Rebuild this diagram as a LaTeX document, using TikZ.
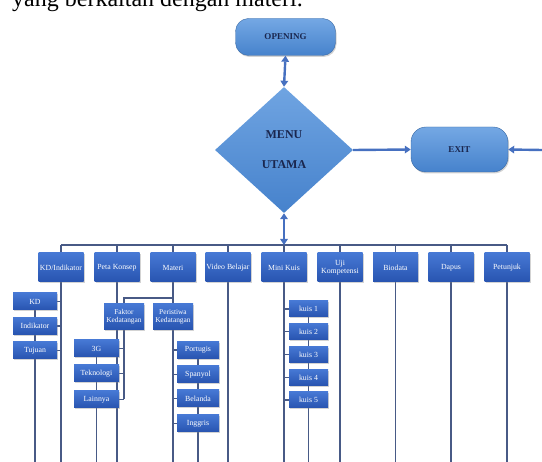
\documentclass[tikz,border=0pt]{standalone}
\usepackage{fontspec}
\setmainfont{Liberation Serif}
\usetikzlibrary{shapes.geometric}
\usetikzlibrary{arrows.meta}
\usetikzlibrary{shadows}
\usetikzlibrary{backgrounds}
\definecolor{boxtop}{RGB}{70,120,212}
\definecolor{boxbot}{RGB}{40,84,176}
\definecolor{pilltop}{RGB}{116,168,228}
\definecolor{pillbot}{RGB}{70,130,204}
\definecolor{pilltext}{RGB}{26,38,78}
\definecolor{linkgrey}{RGB}{72,90,134}
\definecolor{arrowblue}{RGB}{70,112,192}
\begin{document}
\begin{tikzpicture}[
  menubox/.style={rectangle, minimum width=45pt, minimum height=29pt, inner sep=0pt, top color=boxtop, bottom color=boxbot, text=white, align=center, font=\fontsize{7.8}{8.2}\selectfont, drop shadow={opacity=0.35, shadow xshift=1.2pt, shadow yshift=-1.5pt}},
  subbox/.style={menubox, minimum width=44pt, minimum height=17pt},
  kuisbox/.style={menubox, minimum width=39pt, minimum height=16pt},
  pillbox/.style={rectangle, rounded corners=13pt, inner sep=0pt, top color=pilltop, bottom color=pillbot, draw=pillbot!80!black, line width=0.4pt, text=pilltext, font=\fontsize{9}{10}\selectfont\bfseries, drop shadow={opacity=0.35, shadow xshift=1pt, shadow yshift=-1.5pt}},
  decision/.style={diamond, minimum width=138pt, minimum height=126pt, inner sep=0pt, top color=pilltop!90!pillbot, bottom color=pillbot, text=pilltext, align=center, font=\fontsize{12}{13}\selectfont\bfseries},
  link/.style={line width=1.1pt, color=linkgrey},
  flow/.style={line width=2.4pt, color=arrowblue, -{Triangle[length=6pt, width=7.5pt]}},
  flowboth/.style={flow, {Triangle[length=6pt, width=7.5pt]}-{Triangle[length=6pt, width=7.5pt]}}
]
\useasboundingbox (0pt, 0pt) rectangle (542pt, -462pt);
\clip (0pt, 0pt) rectangle (542pt, -462pt);
\node (caption) [anchor=base west, inner sep=0pt, font=\fontsize{24}{25}\selectfont] at (12pt, -7pt) {yang berkaitan dengan materi.};
% top of the flow
\node (opening) [pillbox, minimum width=100pt, minimum height=37pt] at (285.5pt, -37.0pt) {OPENING};
\node (menu) [decision] at (284.0pt, -150.0pt) {MENU\\[17pt]UTAMA};
\node (exit) [pillbox, rounded corners=15pt, minimum width=97pt, minimum height=45pt] at (459.5pt, -149.5pt) {EXIT};
\coordinate (exitin) at (542pt, -150.0pt);
\coordinate (busL) at (61.0pt, -245.0pt);
\coordinate (busM) at (284.0pt, -245.0pt);
\coordinate (busR) at (507.0pt, -245.0pt);
\coordinate (bottom) at (0pt, -462.0pt);
\coordinate (split) at (173.0pt, -298.0pt);
% menu row
\node (kdind) [menubox] at (61.0pt, -267.5pt) {KD/Indikator};
\node (peta) [menubox] at (117.0pt, -267.5pt) {Peta Konsep};
\node (materi) [menubox] at (173.0pt, -267.5pt) {Materi};
\node (video) [menubox] at (228.0pt, -267.5pt) {Video Belajar};
\node (mkuis) [menubox] at (284.0pt, -267.5pt) {Mini Kuis};
\node (uji) [menubox] at (340.0pt, -267.5pt) {Uji\\Kompetensi};
\node (bio) [menubox] at (395.5pt, -267.5pt) {Biodata};
\node (dapus) [menubox] at (451.0pt, -267.5pt) {Dapus};
\node (petunjuk) [menubox] at (507.0pt, -267.5pt) {Petunjuk};
% KD/Indikator
\node (kd) [subbox] at (35.0pt, -301.5pt) {KD};
\node (indik) [subbox] at (35.0pt, -326.0pt) {Indikator};
\node (tujuan) [subbox] at (35.0pt, -350.5pt) {Tujuan};
% Materi
\node (faktor) [subbox, minimum width=40pt, minimum height=26pt, font=\fontsize{7.4}{8}\selectfont] at (124.0pt, -317.0pt) {Faktor\\Kedatangan};
\node (peristiwa) [subbox, minimum width=40pt, minimum height=26pt, font=\fontsize{7.4}{8}\selectfont] at (173.0pt, -317.0pt) {Peristiwa\\Kedatangan};
\node (tigag) [subbox, minimum width=45pt] at (96.5pt, -348.5pt) {3G};
\node (tekno) [subbox, minimum width=45pt] at (96.5pt, -373.5pt) {Teknologi};
\node (lainnya) [subbox, minimum width=45pt] at (96.5pt, -399.5pt) {Lainnya};
\node (portugis) [subbox, minimum width=42pt] at (198.0pt, -350.0pt) {Portugis};
\node (spanyol) [subbox, minimum width=42pt] at (198.0pt, -374.5pt) {Spanyol};
\node (belanda) [subbox, minimum width=42pt] at (198.0pt, -398.5pt) {Belanda};
\node (inggris) [subbox, minimum width=42pt] at (198.0pt, -423.5pt) {Inggris};
% Mini Kuis
\node (kuis1) [kuisbox] at (308.5pt, -309.0pt) {kuis 1};
\node (kuis2) [kuisbox] at (308.5pt, -331.5pt) {kuis 2};
\node (kuis3) [kuisbox] at (308.5pt, -354.5pt) {kuis 3};
\node (kuis4) [kuisbox] at (308.5pt, -377.5pt) {kuis 4};
\node (kuis5) [kuisbox] at (308.5pt, -400.0pt) {kuis 5};
% arrows
\draw [flowboth] (opening.south) to (menu.north);
\draw [flow] (menu.east) to (exit.west);
\draw [flow] (exitin) to (exit.east);
\draw [flowboth] (menu.south) to (busM);
\begin{scope}[on background layer]
\draw [link] (busL) to (busR);
\draw [link] (kdind.north) to (kdind.north |- busL);
\draw [link] (peta.north) to (peta.north |- busL);
\draw [link] (materi.north) to (materi.north |- busL);
\draw [link] (video.north) to (video.north |- busL);
\draw [link] (mkuis.north) to (mkuis.north |- busL);
\draw [link] (uji.north) to (uji.north |- busL);
\draw [link] (bio.north) to (bio.north |- busL);
\draw [link] (dapus.north) to (dapus.north |- busL);
\draw [link] (petunjuk.north) to (petunjuk.north |- busL);
% long drops
\draw [link] (kdind.south) to (kdind.south |- bottom);
\draw [link] (peta.south) to (peta.south |- bottom);
\draw [link] (materi.south) to (materi.south |- bottom);
\draw [link] (video.south) to (video.south |- bottom);
\draw [link] (mkuis.south) to (mkuis.south |- bottom);
\draw [link] (uji.south) to (uji.south |- bottom);
\draw [link] (bio.south) to (bio.south |- bottom);
\draw [link] (dapus.south) to (dapus.south |- bottom);
\draw [link] (petunjuk.south) to (petunjuk.south |- bottom);
% KD/Indikator branch
\draw [link] (kd.east) to (kd.east -| kdind.south);
\draw [link] (indik.east) to (indik.east -| kdind.south);
\draw [link] (tujuan.east) to (tujuan.east -| kdind.south);
\draw [link] (kd.center) to (kd.center |- bottom);
% Materi branch
\draw [link] (split) -| (faktor.north);
\draw [link] (faktor.south) to (lainnya.east -| faktor.south);
\draw [link] (tigag.east) to (tigag.east -| faktor.south);
\draw [link] (tekno.east) to (tekno.east -| faktor.south);
\draw [link] (lainnya.east) to (lainnya.east -| faktor.south);
\draw [link] (tigag.center) to (tigag.center |- bottom);
\draw [link] (portugis.west) to (portugis.west -| peristiwa.south);
\draw [link] (spanyol.west) to (spanyol.west -| peristiwa.south);
\draw [link] (belanda.west) to (belanda.west -| peristiwa.south);
\draw [link] (inggris.west) to (inggris.west -| peristiwa.south);
\draw [link] (portugis.center) to (portugis.center |- bottom);
% Mini Kuis branch
\draw [link] (kuis1.west) to (kuis1.west -| mkuis.south);
\draw [link] (kuis2.west) to (kuis2.west -| mkuis.south);
\draw [link] (kuis3.west) to (kuis3.west -| mkuis.south);
\draw [link] (kuis4.west) to (kuis4.west -| mkuis.south);
\draw [link] (kuis5.west) to (kuis5.west -| mkuis.south);
\draw [link] (kuis1.center) to (kuis1.center |- bottom);
\end{scope}
\end{tikzpicture}
\end{document}
